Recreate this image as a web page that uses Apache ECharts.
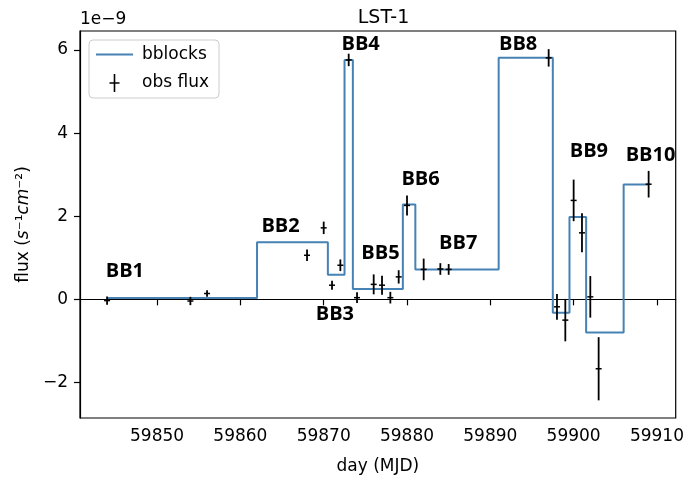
<!DOCTYPE html>
<html>
<head>
<meta charset="utf-8">
<script src="https://cdn.jsdelivr.net/npm/echarts@6/dist/echarts.min.js"></script>
<style>html,body{margin:0;padding:0;background:#fff}#c{width:687px;height:480px}</style>
</head>
<body>
<div id="c"></div>
<script>
// observed points (flux in units of 1e-9)
const obsDays = [59844, 59854, 59856, 59868, 59870, 59871, 59872, 59873, 59874, 59876, 59877, 59878, 59879, 59880, 59882, 59884, 59885, 59897, 59898, 59899, 59900, 59901, 59902, 59903, 59909];
const obsFlux = [-0.03, -0.04, 0.14, 1.06, 1.72, 0.34, 0.82, 5.76, 0.04, 0.36, 0.34, 0.04, 0.54, 2.26, 0.72, 0.73, 0.72, 5.81, -0.18, -0.50, 2.38, 1.60, 0.06, -1.67, 2.77];
const obsErr  = [0.10, 0.10, 0.08, 0.14, 0.15, 0.11, 0.14, 0.15, 0.13, 0.24, 0.23, 0.14, 0.16, 0.24, 0.26, 0.14, 0.13, 0.21, 0.31, 0.51, 0.50, 0.47, 0.50, 0.76, 0.32];
// Bayesian blocks
const blockEdges  = [59844, 59862, 59870.5, 59872.5, 59873.5, 59879.5, 59881, 59891, 59897.5, 59899.5, 59901.5, 59906, 59909];
const blockValues = [0.03, 1.375, 0.59, 5.76, 0.25, 2.28, 0.72, 5.81, -0.32, 1.98, -0.80, 2.76];
// block labels
const bbNames = ['BB1','BB2','BB3','BB4','BB5','BB6','BB7','BB8','BB9','BB10'];
const bbX = [59843.84, 59862.52, 59869.04, 59872.13, 59874.52, 59879.33, 59883.84, 59891.04, 59899.53, 59906.24];
const bbY = [0.67, 1.75, -0.35, 6.14, 1.10, 2.88, 1.34, 6.13, 3.56, 3.46];
// ticks
const xTicks = [59850, 59860, 59870, 59880, 59890, 59900, 59910];
const yTicks = [-2, 0, 2, 4, 6];

const stepData = blockEdges.map((e, i) => [e, blockValues[Math.min(i, blockValues.length - 1)]]);
const errData = obsDays.map((d, i) => [d, obsFlux[i], obsErr[i]]);
const lblData = bbNames.map((n, i) => ({name: n, value: [bbX[i], bbY[i]]}));

const F = 'DejaVu Sans';
const chart = echarts.init(document.getElementById('c'), null, {renderer: 'canvas'});
chart.setOption({
  animation: false,
  backgroundColor: '#fff',
  title: {
    text: 'LST-1', left: 378.5, top: 4, textAlign: 'center',
    textStyle: {fontFamily: F, fontSize: 19, fontWeight: 'normal', color: '#000'}
  },
  graphic: [{
    type: 'text', left: 80, top: 11,
    style: {text: '1e\u22129', fontFamily: F, fontSize: 17, fill: '#000'}
  }],
  legend: {
    orient: 'vertical', left: 89, top: 40,
    padding: [6, 10, 6, 7],
    itemWidth: 37, itemHeight: 18, itemGap: 11,
    borderColor: '#cccccc', borderWidth: 1, borderRadius: 4,
    backgroundColor: 'rgba(255,255,255,0.8)',
    textStyle: {fontFamily: F, fontSize: 17, color: '#000', padding: [0, 0, 0, 4]},
    data: [
      {name: 'bblocks', icon: 'path://M0,0 L37,0 L37,2 L0,2 Z', itemStyle: {color: '#4682b4'}},
      {name: 'obs flux', icon: 'path://M4.2,0 L5.8,0 L5.8,8.2 L10,8.2 L10,9.8 L5.8,9.8 L5.8,18 L4.2,18 L4.2,9.8 L0,9.8 L0,8.2 L4.2,8.2 Z', itemStyle: {color: '#000'}}
    ]
  },
  grid: {left: 80, right: 10, top: 31, bottom: 61.7, show: true, borderColor: '#000', borderWidth: 1.2, backgroundColor: 'transparent'},
  xAxis: {
    type: 'value', min: 59840.75, max: 59912.25,
    name: 'day (MJD)', nameLocation: 'middle', nameGap: 40,
    nameTextStyle: {fontFamily: F, fontSize: 17, color: '#000'},
    axisLine: {lineStyle: {color: '#000', width: 1.2}},
    axisTick: {customValues: xTicks, length: 6, lineStyle: {color: '#000', width: 1.2}},
    axisLabel: {customValues: xTicks, fontFamily: F, fontSize: 17, color: '#000', margin: 10, formatter: v => String(v)},
    splitLine: {show: false}
  },
  yAxis: {
    type: 'value', min: -2.855, max: 6.456,
    name: 'flux ({it|s}\u207b\u00b9{it|cm}\u207b\u00b2)', nameLocation: 'middle', nameGap: 47, nameRotate: 90,
    nameTextStyle: {fontFamily: F, fontSize: 17, color: '#000', rich: {it: {fontFamily: F, fontSize: 17, fontStyle: 'italic', color: '#000'}}},
    axisLine: {show: true, lineStyle: {color: '#000', width: 1.2}},
    axisTick: {show: true, customValues: yTicks, length: 6, lineStyle: {color: '#000', width: 1.2}},
    axisLabel: {customValues: yTicks, fontFamily: F, fontSize: 17, color: '#000', margin: 12,
      formatter: v => (v < 0 ? '\u2212' + Math.abs(v) : String(v))},
    splitLine: {show: false}
  },
  series: [
    {
      name: 'bblocks', type: 'line', step: 'end', data: stepData,
      symbol: 'none', lineStyle: {color: '#4682b4', width: 2}, itemStyle: {color: '#4682b4'}, z: 2
    },
    {
      name: 'obs flux', type: 'custom', data: errData, z: 3,
      itemStyle: {color: '#000'},
      renderItem: (params, api) => {
        const x = api.value(0), y = api.value(1), e = api.value(2);
        const top = api.coord([x, y + e]);
        const bot = api.coord([x, y - e]);
        const c = api.coord([x, y]);
        const st = {stroke: '#000', lineWidth: 1.8};
        return {type: 'group', children: [
          {type: 'line', shape: {x1: top[0], y1: top[1], x2: bot[0], y2: bot[1]}, style: st},
          {type: 'line', shape: {x1: c[0] - 3, y1: c[1], x2: c[0] + 3, y2: c[1]}, style: {stroke: '#000', lineWidth: 1.5}}
        ]};
      }
    },
    {
      name: 'labels', type: 'scatter', data: lblData, symbolSize: 0, silent: true, z: 4,
      itemStyle: {opacity: 1, color: '#000'},
      label: {show: true, position: 'right', distance: 0, formatter: p => p.name, opacity: 1,
        fontFamily: 'Open Sans', fontWeight: 'bold', fontSize: 20, color: '#000', textBorderWidth: 0}
    }
  ]
});
</script>
</body>
</html>
